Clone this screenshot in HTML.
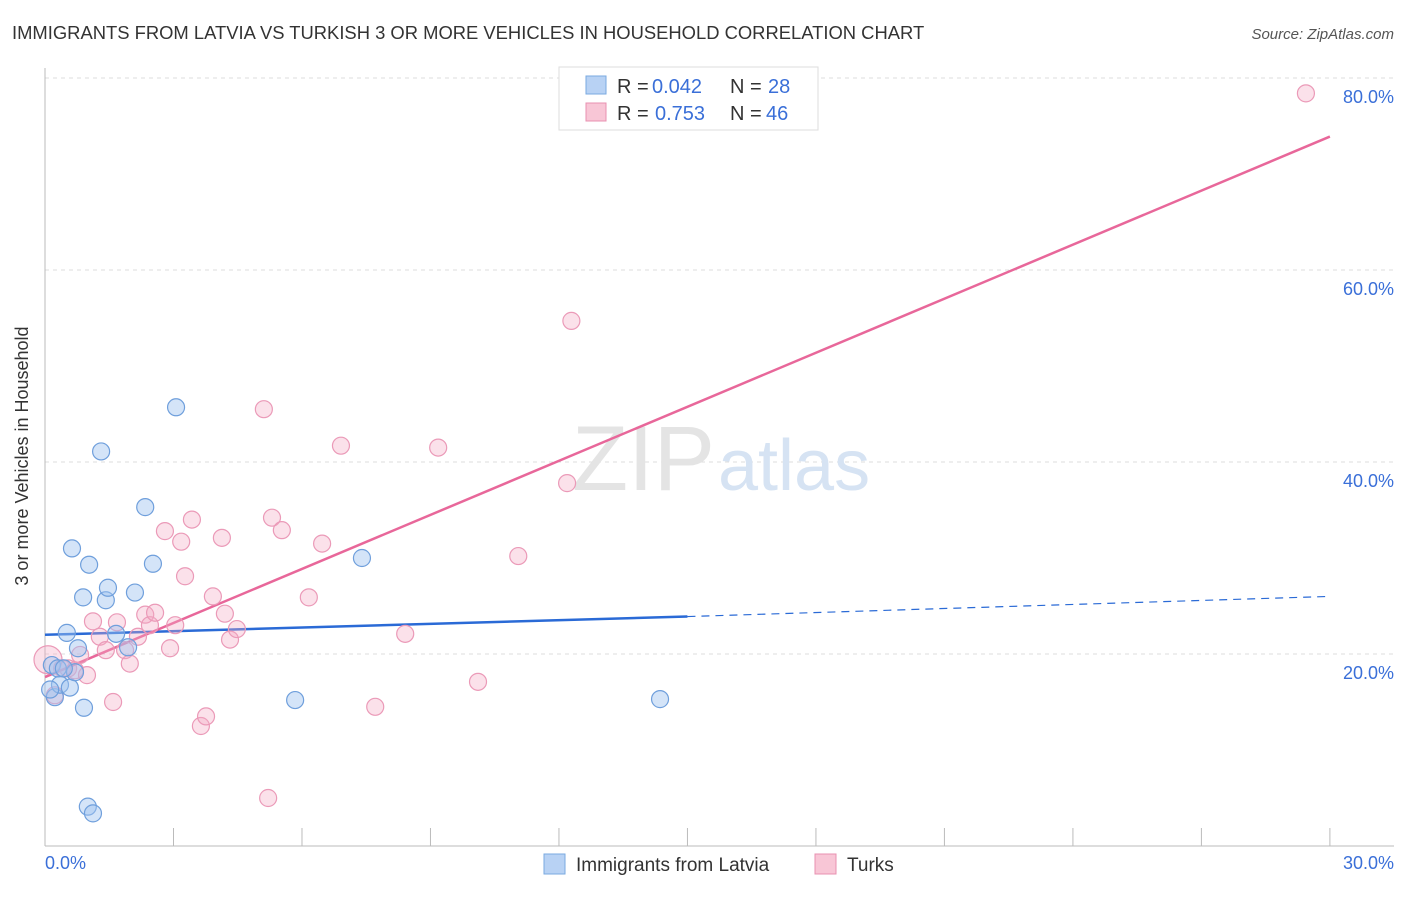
<!DOCTYPE html>
<html><head><meta charset="utf-8"><style>
body{margin:0;background:#fff;font-family:"Liberation Sans",sans-serif;}
svg text{font-family:"Liberation Sans",sans-serif;}
</style></head><body>
<svg width="1406" height="892" viewBox="0 0 1406 892">
<text x="12" y="39" font-size="18.4" fill="#333">IMMIGRANTS FROM LATVIA VS TURKISH 3 OR MORE VEHICLES IN HOUSEHOLD CORRELATION CHART</text>
<text x="1394" y="39" font-size="15" fill="#555" font-style="italic" text-anchor="end">Source: ZipAtlas.com</text>
<g id="grid"></g>
<text x="715" y="490" font-size="92" fill="#e4e4e4" text-anchor="end" font-family="Liberation Serif">ZIP</text>
<text x="718" y="490" font-size="72" fill="#d6e3f3">atlas</text>
<g id="axes"></g>
<g id="lines"></g>
<g id="pts"></g>
<text x="28" y="456" font-size="18" fill="#333" text-anchor="middle" transform="rotate(-90 28 456)">3 or more Vehicles in Household</text>
<text x="45" y="869" font-size="18" fill="#3a6fd8">0.0%</text>
<text x="1394" y="869" font-size="18" fill="#3a6fd8" text-anchor="end">30.0%</text>
<g>
<rect x="559" y="67" width="259" height="63" fill="#fff" stroke="#ddd"/>
<rect x="586" y="76" width="20" height="18" fill="#b8d2f4" stroke="#7aaae0"/>
<rect x="586" y="103" width="20" height="18" fill="#f8c6d6" stroke="#e890b0"/>
<text x="617" y="93" font-size="20" fill="#333">R =</text>
<text x="652" y="93" font-size="20" fill="#3a6fd8">0.042</text>
<text x="730" y="93" font-size="20" fill="#333">N =</text>
<text x="768" y="93" font-size="20" fill="#3a6fd8">28</text>
<text x="617" y="120" font-size="20" fill="#333">R =</text>
<text x="655" y="120" font-size="20" fill="#3a6fd8">0.753</text>
<text x="730" y="120" font-size="20" fill="#333">N =</text>
<text x="766" y="120" font-size="20" fill="#3a6fd8">46</text>
</g>
<g>
<rect x="544" y="854" width="21" height="20" fill="#b8d2f4" stroke="#7aaae0"/>
<text x="576" y="871" font-size="19" fill="#333">Immigrants from Latvia</text>
<rect x="815" y="854" width="21" height="20" fill="#f8c6d6" stroke="#e890b0"/>
<text x="847" y="871" font-size="19" fill="#333">Turks</text>
</g>
</svg>
<script>
const yTicks=[20,40,60,80];
const xTicks=[0,3,6,9,12,15,18,21,24,27,30];
const blueX=[0.16,0.23,0.35,0.51,0.58,0.63,0.77,0.70,0.89,0.91,1.03,1.00,1.12,1.31,1.42,1.47,1.66,1.94,2.10,2.34,2.52,3.06,5.84,7.40,14.36,0.12,0.30,0.44];
const blueY=[18.85,15.5,16.8,22.2,16.5,31.0,20.6,18.1,25.9,14.4,29.3,4.1,3.4,41.1,25.6,26.9,22.1,20.7,26.4,35.3,29.4,45.7,15.2,30.0,15.3,16.3,18.5,18.5];
const pinkX=[0.07,0.23,0.40,0.54,0.70,0.82,0.98,1.12,1.28,1.42,1.59,1.68,1.87,1.98,2.17,2.34,2.45,2.57,2.80,2.92,3.04,3.18,3.27,3.43,3.64,3.76,3.92,4.13,4.20,4.32,4.48,5.11,5.21,5.30,5.53,6.16,6.47,6.91,7.71,8.41,9.18,10.11,11.05,12.19,12.29,29.44];
const pinkY=[19.4,15.7,18.5,18.5,18.3,19.9,17.8,23.4,21.8,20.4,15.0,23.3,20.4,19.0,21.8,24.1,23.0,24.3,32.8,20.6,23.0,31.7,28.1,34.0,12.5,13.5,26.0,32.1,24.2,21.5,22.6,45.5,5.0,34.2,32.9,25.9,31.5,41.7,14.5,22.1,41.5,17.1,30.2,37.8,54.7,78.4];
const blueTrendX=[0,15,30];
const blueTrendY=[22.0,23.9,26.0];
const pinkTrendX=[0,30];
const pinkTrendY=[17.6,73.9];
const NS='http://www.w3.org/2000/svg';
const sx=v=>45+v*42.83, sy=v=>846-v*9.6;
function mk(tag,attrs,parent){const e=document.createElementNS(NS,tag);for(const k in attrs)e.setAttribute(k,attrs[k]);document.getElementById(parent).appendChild(e);return e;}
yTicks.forEach(t=>{
 const l=mk('line',{x1:45,x2:1394,y1:sy(t),y2:sy(t),stroke:'#ddd','stroke-dasharray':'4,4'},'grid');
 
 
 const tx=mk('text',{x:1394,y:sy(t)+25,'font-size':18,fill:'#3a6fd8','text-anchor':'end'},'grid');
 tx.textContent=t.toFixed(1)+'%';
 
 
});
mk('line',{x1:45,x2:45,y1:68,y2:846,stroke:'#bbb'},'axes');
mk('line',{x1:45,x2:1394,y1:846,y2:846,stroke:'#bbb'},'axes');
xTicks.forEach(t=>{const l=mk('line',{x1:sx(t),x2:sx(t),y1:828,y2:846,stroke:'#bbb'},'axes');
 
 });
const b1=mk('line',{x1:sx(blueTrendX[0]),y1:sy(blueTrendY[0]),x2:sx(blueTrendX[1]),y2:sy(blueTrendY[1]),stroke:'#2a6ad6','stroke-width':2.5},'lines');


const b2=mk('line',{x1:sx(blueTrendX[1]),y1:sy(blueTrendY[1]),x2:sx(blueTrendX[2]),y2:sy(blueTrendY[2]),stroke:'#2a6ad6','stroke-width':1.2,'stroke-dasharray':'8,6'},'lines');


const p1=mk('line',{x1:sx(pinkTrendX[0]),y1:sy(pinkTrendY[0]),x2:sx(pinkTrendX[1]),y2:sy(pinkTrendY[1]),stroke:'#e8679a','stroke-width':2.5},'lines');


pinkX.forEach((x,i)=>{const c=mk('circle',{cx:sx(x),cy:sy(pinkY[i]),r:i===0?14:8.5,fill:'rgba(244,170,196,0.35)',stroke:'#eb9ab8','stroke-width':1.2},'pts');
 
 });
blueX.forEach((x,i)=>{const c=mk('circle',{cx:sx(x),cy:sy(blueY[i]),r:8.5,fill:'rgba(160,196,240,0.45)',stroke:'#6f9fdc','stroke-width':1.2},'pts');
 
 });
</script>
</body></html>
